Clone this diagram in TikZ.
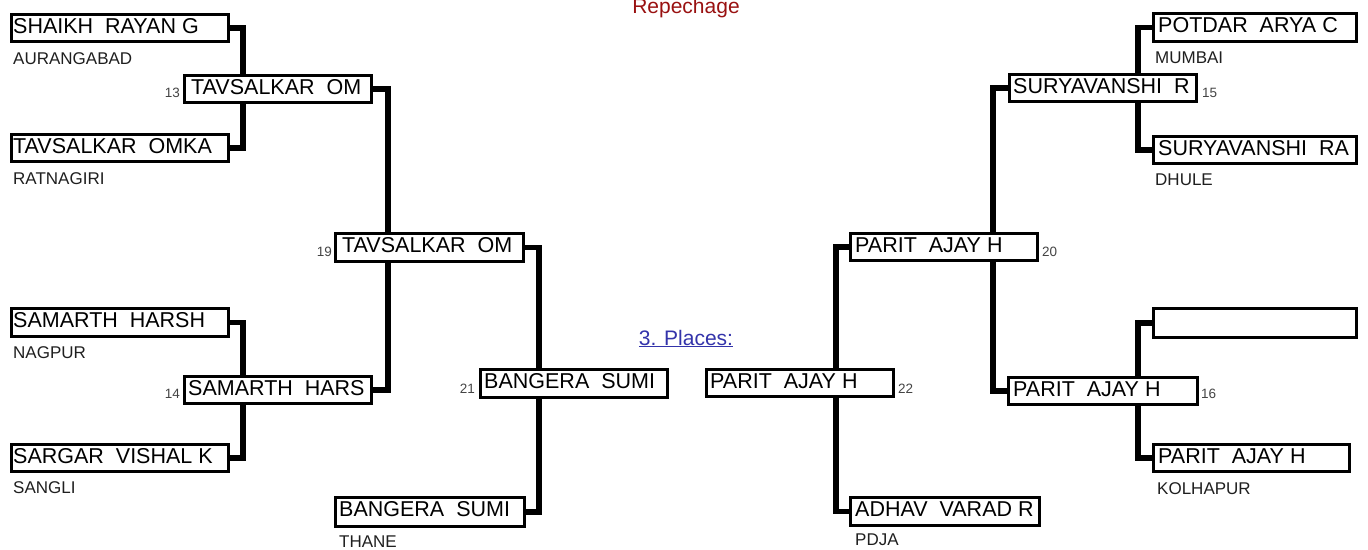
\documentclass[tikz,border=0pt]{standalone}
\usepackage{fontspec}
\setmainfont{Liberation Sans}
\definecolor{repred}{RGB}{153,17,17}
\definecolor{plblue}{RGB}{51,51,170}
\definecolor{numgray}{RGB}{68,68,68}
\tikzset{
  pbox/.style={draw=black, fill=white, line width=3pt, rectangle, inner sep=0pt, outer sep=0pt, anchor=north west},
  ptext/.style={inner sep=0pt, anchor=base west, text=black, font=\fontsize{21.5}{24}\selectfont},
  ctext/.style={inner sep=0pt, anchor=base west, text=black!88, font=\fontsize{17}{20}\selectfont},
  ntext/.style={inner sep=0pt, text=numgray, font=\fontsize{13.5}{16}\selectfont},
  conn/.style={line width=5.5pt, draw=black},
}
% name, x0, y0, x1, y1, text offset, text
\newcommand\plbox[7]{%
  \pgfmathsetmacro\plW{#4-#2-3}%
  \pgfmathsetmacro\plH{#5-#3-3}%
  \node[pbox, minimum width=\plW pt, minimum height=\plH pt] (#1) at (#2+1.5,#3+1.5) {};
  \node[ptext] (#1t) at (#2+#6,#3+20) {#7};
}
% name, x, baseline, text
\newcommand\plcity[4]{\node[ctext] (#1) at (#2,#3) {#4};}
\begin{document}
\begin{tikzpicture}[x=1pt,y=-1pt]
\useasboundingbox (0,0) rectangle (1368,549);
% connector columns
\coordinate (cxA) at (243,0);
\coordinate (cxB) at (388,0);
\coordinate (cxC) at (539,0);
\coordinate (cxF) at (1138,0);
\coordinate (cxG) at (993,0);
\coordinate (cxH) at (836,0);
% left half
\plbox{a1}{10}{13}{230}{43}{3}{SHAIKH~~RAYAN G}
\plcity{a1c}{13}{64}{AURANGABAD}
\plbox{a2}{10}{133}{230}{163}{3}{TAVSALKAR~~OMKA}
\plcity{a2c}{13}{184}{RATNAGIRI}
\plbox{a3}{10}{307}{230}{338}{3}{SAMARTH~~HARSH}
\plcity{a3c}{13}{358}{NAGPUR}
\plbox{a4}{10}{443}{230}{473}{3}{SARGAR~~VISHAL K}
\plcity{a4c}{13}{493}{SANGLI}
\plbox{b1}{183}{74}{373}{104}{8}{TAVSALKAR~~OM}
\plbox{b2}{183}{375}{373}{405}{5}{SAMARTH~~HARS}
\plbox{c1}{334}{232}{525}{263}{8}{TAVSALKAR~~OM}
\plbox{d1}{479}{368}{669}{399}{5}{BANGERA~~SUMI}
\plbox{e1}{334}{496}{526}{528}{5}{BANGERA~~SUMI}
\plcity{e1c}{339}{547}{THANE}
\node[ntext, anchor=base east] (n13) at (180,97) {13};
\node[ntext, anchor=base east] (n14) at (180,398) {14};
\node[ntext, anchor=base east] (n19) at (332,256) {19};
\node[ntext, anchor=base east] (n21) at (475,393) {21};
% right half
\plbox{f1}{1152}{12}{1358}{43}{6}{POTDAR~~ARYA C}
\plcity{f1c}{1155}{63}{MUMBAI}
\plbox{f2}{1152}{135}{1358}{165}{6}{SURYAVANSHI~~RA}
\plcity{f2c}{1155}{185}{DHULE}
\plbox{f3}{1152}{307}{1358}{339}{6}{}
\plbox{f4}{1152}{443}{1351}{473}{6}{PARIT~~AJAY H}
\plcity{f4c}{1157}{494}{KOLHAPUR}
\plbox{g1}{1008}{73}{1198}{103}{5}{SURYAVANSHI~~R}
\plbox{g2}{1007}{376}{1199}{406}{6}{PARIT~~AJAY H}
\plbox{h1}{849}{232}{1039}{262}{6}{PARIT~~AJAY H}
\plbox{i1}{705}{368}{895}{398}{5}{PARIT~~AJAY H}
\plbox{j1}{849}{496}{1041}{527}{6}{ADHAV~~VARAD R}
\plcity{j1c}{855}{545}{PDJA}
\node[ntext, anchor=base west] (n15) at (1202,97) {15};
\node[ntext, anchor=base west] (n16) at (1201,398) {16};
\node[ntext, anchor=base west] (n20) at (1042,256) {20};
\node[ntext, anchor=base west] (n22) at (898,393) {22};
% connectors
\draw[conn] (a1.east) -| (b1.north -| cxA);
\draw[conn] (a2.east) -| (b1.south -| cxA);
\draw[conn] (a3.east) -| (b2.north -| cxA);
\draw[conn] (a4.east) -| (b2.south -| cxA);
\draw[conn] (b1.east) -| (c1.north -| cxB);
\draw[conn] (b2.east) -| (c1.south -| cxB);
\draw[conn] (c1.east) -| (d1.north -| cxC);
\draw[conn] (e1.east) -| (d1.south -| cxC);
\draw[conn] (f1.west) -| (g1.north -| cxF);
\draw[conn] (f2.west) -| (g1.south -| cxF);
\draw[conn] (f3.west) -| (g2.north -| cxF);
\draw[conn] (f4.west) -| (g2.south -| cxF);
\draw[conn] (g1.west) -| (h1.north -| cxG);
\draw[conn] (g2.west) -| (h1.south -| cxG);
\draw[conn] (h1.west) -| (i1.north -| cxH);
\draw[conn] (j1.west) -| (i1.south -| cxH);
% titles
\node[inner sep=0pt, anchor=base, text=repred, font=\fontsize{21}{24}\selectfont] (rep) at (686,13) {Repechage};
\node[inner sep=0pt, anchor=base, text=plblue, font=\fontsize{21}{24}\selectfont] (places) at (686,345) {\underline{3. Places:}};
\end{tikzpicture}
\end{document}
